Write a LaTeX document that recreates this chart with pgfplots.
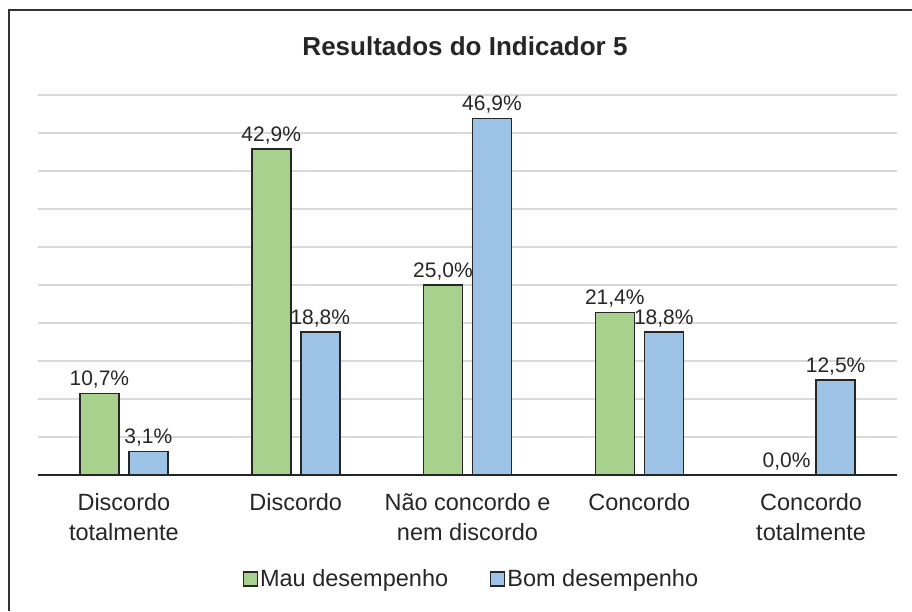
\documentclass[border=0pt]{standalone}
\usepackage{fontspec}
\setmainfont{Liberation Sans}
\usepackage{pgfplots}
\pgfplotsset{compat=1.18}
\definecolor{gmau}{HTML}{A9D18E}
\definecolor{bbom}{HTML}{9DC3E6}
\definecolor{gridc}{HTML}{D9D9D9}
\definecolor{txt}{HTML}{262626}
\begin{document}
\begin{tikzpicture}[x=1pt,y=1pt]
\path[use as bounding box] (0,0) rectangle (912,611);
\draw[line width=2pt,color=black!80] (9,0) -- (9,601) -- (912,601);
\node[font=\fontsize{26}{31}\selectfont\bfseries,text=txt] at (465,565) {Resultados do Indicador 5};
\begin{axis}[
  at={(38pt,136pt)}, anchor=south west,
  scale only axis, width=859pt, height=380pt,
  ymin=0, ymax=50, xmin=-0.5, xmax=4.5,
  ytick={0,5,...,50}, yticklabels={},
  ymajorgrids, grid style={color=gridc,line width=1.5pt},
  major tick length=0pt,
  axis x line*=bottom, axis y line*=left,
  y axis line style={draw=none},
  x axis line style={line width=1.8pt,color=black!85,-},
  xtick={0,1,2,3,4},
  xticklabels={{Discordo\\totalmente},{Discordo},{Não concordo e\\nem discordo},{Concordo},{Concordo\\totalmente}},
  xticklabel style={align=center,font=\fontsize{23.5}{30}\selectfont,text=txt,yshift=-15pt},
  ybar, bar width=39pt,
  every axis plot/.append style={draw=black!85,line width=1.6pt},
  nodes near coords={\pgfmathprintnumber[fixed,fixed zerofill,precision=1,use comma,assume math mode=true]{\pgfplotspointmeta}\%},
  nodes near coords style={font=\fontsize{21}{25}\selectfont,text=txt,yshift=1pt},
  legend columns=2,
  legend style={at={(433.5pt,-104pt)},anchor=center,draw=none,font=\fontsize{23.5}{28}\selectfont,text=txt,
    /tikz/every even column/.append style={column sep=40pt}},
  legend image code/.code={\draw[#1,line width=1.2pt] (0pt,-7pt) rectangle (14pt,7pt);},
  clip=false,
]
\addplot[fill=gmau, bar shift=-24.5pt] coordinates {(0,10.7) (1,42.9) (2,25.0) (3,21.4) (4,0.0)};
\addplot[fill=bbom, bar shift=24.5pt] coordinates {(0,3.1) (1,18.8) (2,46.9) (3,18.8) (4,12.5)};
\legend{Mau desempenho, Bom desempenho}
\end{axis}
\end{tikzpicture}
\end{document}
